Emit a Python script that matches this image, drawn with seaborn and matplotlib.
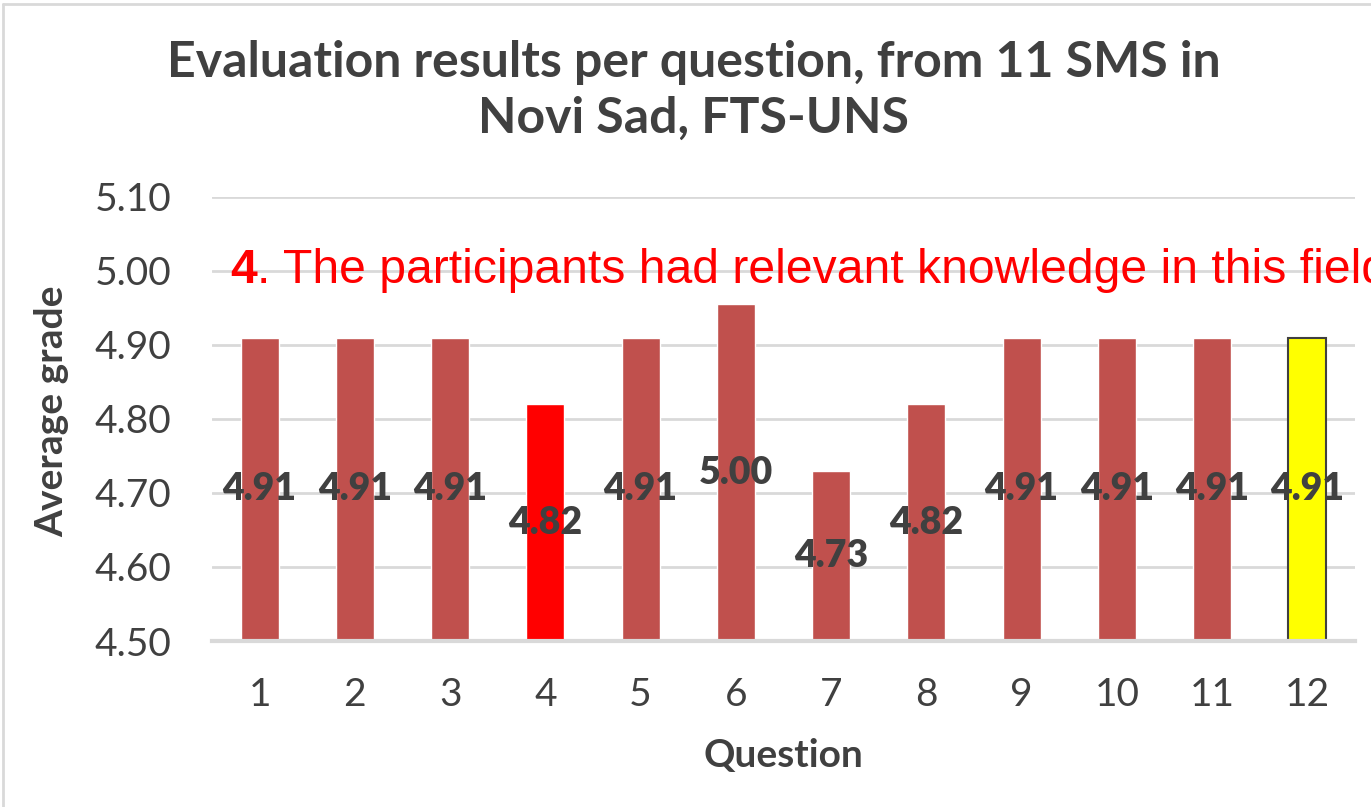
import numpy as np
import pandas as pd
import matplotlib.pyplot as plt
import seaborn as sns
from matplotlib.lines import Line2D

questions = ['1', '2', '3', '4', '5', '6', '7', '8', '9', '10', '11', '12']
grades = [4.91, 4.91, 4.91, 4.82, 4.91, 4.955, 4.73, 4.82, 4.91, 4.91, 4.91, 4.91]
grade_labels = ['4.91', '4.91', '4.91', '4.82', '4.91', '5.00', '4.73', '4.82', '4.91', '4.91', '4.91', '4.91']
bar_colors = ['#C0504D'] * 3 + ['#FF0000'] + ['#C0504D'] * 7 + ['#FFFF00']

df = pd.DataFrame({'question': questions, 'grade': grades})

sns.set_style('white')
plt.rcParams['font.family'] = ['Lato', 'DejaVu Sans']
dark = '#404040'
grid = '#D9D9D9'

fig = plt.figure(figsize=(13.71, 8.07), dpi=100)
ax = fig.add_axes([0.1546, 0.2057, 0.8337, 0.5502])

sns.barplot(data=df, x='question', y='grade', hue='question', palette=bar_colors,
            width=0.4, legend=False, ax=ax, saturation=1)

# yellow bar gets a dark outline
ax.patches[11].set_edgecolor(dark)
ax.patches[11].set_linewidth(1.5)

# bars start from the axis bottom
for p in ax.patches:
    p.set_y(4.5)
    p.set_height(p.get_height() - 4.5)

ax.set_ylim(4.5, 5.1)
ax.set_xlim(-0.5, 11.5)
ax.set_yticks(np.arange(4.5, 5.101, 0.1))
ax.set_yticklabels([f'{t:.2f}' for t in np.arange(4.5, 5.101, 0.1)])
ax.yaxis.grid(True, color=grid, linewidth=2)
ax.set_axisbelow(True)
for s in ['top', 'right', 'left']:
    ax.spines[s].set_visible(False)
ax.spines['bottom'].set_color(grid)
ax.spines['bottom'].set_linewidth(3)
ax.tick_params(axis='both', length=0, labelsize=28, colors=dark)
ax.tick_params(axis='x', pad=26)
ax.tick_params(axis='y', pad=29)

for i, (v, lab) in enumerate(zip(grades, grade_labels)):
    ax.text(i, (4.5 + v) / 2, lab, ha='center', va='center', fontsize=27,
            fontweight='heavy', color=dark)

ax.set_xlabel('Question', fontsize=28, fontweight='bold', color=dark)
ax.set_ylabel('Average grade', fontsize=28, fontweight='bold', color=dark)
ax.xaxis.set_label_coords(0.4996, -0.257)
ax.yaxis.set_label_coords(-0.14, 0.518)
ax.xaxis.label.set_va('center')
ax.yaxis.label.set_va('center')

fig.text(0.506, 0.888, 'Evaluation results per question, from 11 SMS in\nNovi Sad, FTS-UNS',
         ha='center', va='center', fontsize=36, fontweight='bold', color=dark,
         linespacing=1.3)

# red annotation, runs off the right edge like in the original
t4 = fig.text(0.168, 0.649, '4', fontsize=34.7, fontweight='bold', color='#FF0000',
              family=['Liberation Sans'], va='baseline')
ax.annotate('. The participants had relevant knowledge in this field', xy=(1, 0),
            xycoords=t4, va='bottom', ha='left', fontsize=34.7, color='#FF0000',
            family=['Liberation Sans'], annotation_clip=False)

# chart frame
fig.add_artist(Line2D([0.0022, 0.0022], [0, 0.995], color=grid, linewidth=2))
fig.add_artist(Line2D([0.0022, 1], [0.995, 0.995], color=grid, linewidth=2))

fig.savefig('out.png', dpi=100)
